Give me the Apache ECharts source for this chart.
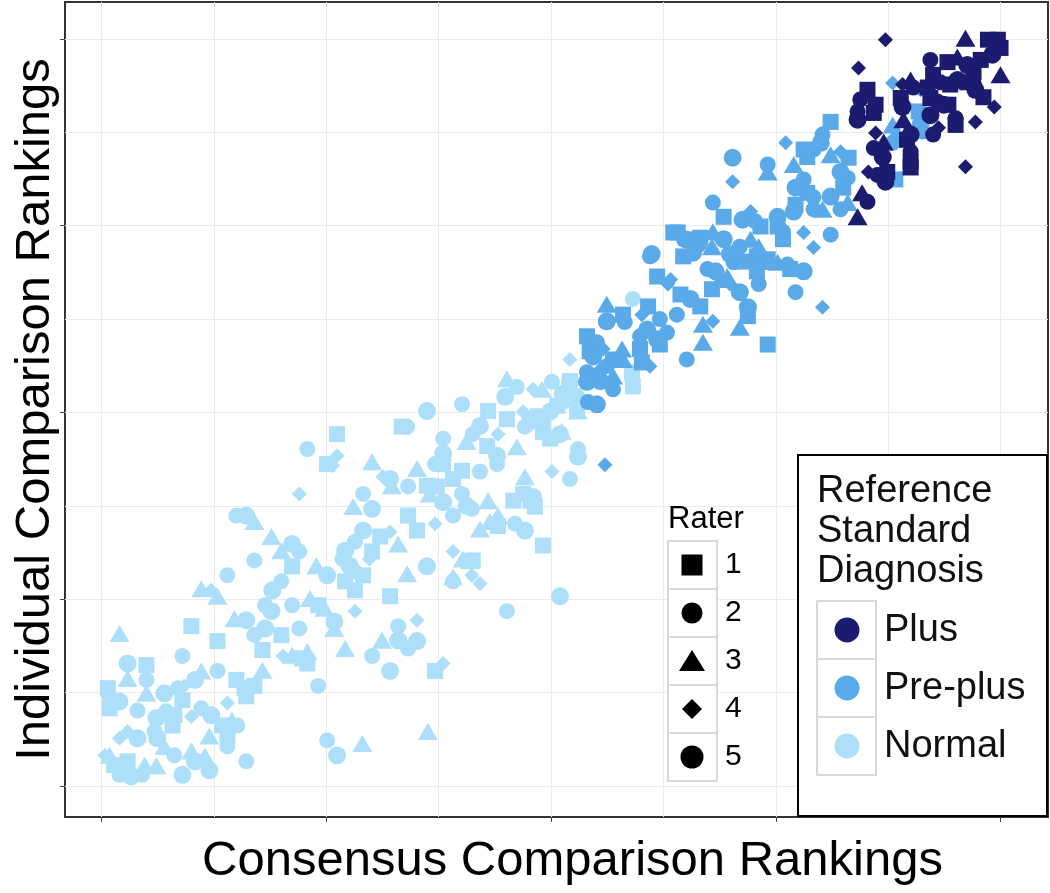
<!DOCTYPE html>
<html><head><meta charset="utf-8">
<script src="https://cdn.jsdelivr.net/npm/echarts@6/dist/echarts.min.js"></script>
<style>html,body{margin:0;padding:0;background:#fff}#c{width:1050px;height:893px}</style>
</head><body><div id="c"></div><script>
// Tick positions (rank units); axes carry no labels
const majorTicks = [0, 25, 50, 75, 100];
const minorTicks = [12.5, 37.5, 62.5, 87.5];
const raterNames = ['1', '2', '3', '4', '5'];
const diagnosisNames = ['Plus', 'Pre-plus', 'Normal'];
// Points: [consensus rank, individual rank, rater]
const normalPts = [
[15.0,36.2,2],[16.1,36.2,5],[17.0,35.4,3],[18.9,33.4,3],[21.2,32.4,5],[22.0,31.4,2],[20.0,31.5,3],[17.0,30.2,2],[21.2,29.4,1],[23.9,29.5,3],[25.1,28.2,5],[14.0,28.2,2],[20.0,27.4,2],[19.0,26.2,5],[11.1,26.4,3],[12.2,26.2,4],[12.9,25.4,3],[18.2,24.2,2],[18.9,23.4,5],[21.2,24.2,2],[23.2,25.1,3],[24.1,24.2,1],[24.8,23.8,3],[14.8,22.4,3],[16.1,22.2,5],[17.0,20.2,2],[18.2,21.1,5],[20.0,20.2,1],[22.0,21.1,2],[25.9,22.0,5],[25.9,21.1,3],[2.0,20.4,3],[10.0,21.4,1],[12.9,19.4,1],[27.1,18.4,3],[17.9,18.2,1],[20.2,17.4,4],[21.2,17.5,3],[22.3,17.1,1],[22.9,18.0,3],[22.9,16.4,1],[9.0,17.4,2],[2.9,16.4,5],[5.0,16.2,1],[2.9,14.4,3],[5.0,14.2,2],[17.9,15.5,3],[12.9,15.4,2],[11.1,15.4,3],[10.4,14.2,5],[9.2,13.4,4],[8.5,13.1,2],[5.0,12.4,3],[15.0,14.2,1],[15.9,13.1,1],[17.0,13.4,1],[16.1,12.0,1],[24.1,13.4,2],[7.0,12.4,5],[0.7,12.4,2],[2.0,11.3,5],[0.9,10.4,1],[14.0,11.1,4],[9.0,11.5,1],[4.0,10.1,2],[6.1,9.1,5],[7.2,10.0,2],[8.1,9.5,1],[7.9,8.1,1],[10.0,9.3,4],[11.1,10.4,2],[12.2,9.5,5],[13.4,8.1,1],[14.5,8.8,3],[15.1,8.1,2],[14.0,6.8,1],[5.9,7.3,2],[6.2,6.4,5],[2.9,7.3,4],[4.0,6.4,5],[2.0,6.4,4],[12.0,6.7,3],[14.0,5.3,2],[25.1,6.1,2],[26.2,4.1,5],[7.0,5.3,3],[8.1,4.1,2],[10.0,4.7,3],[10.4,3.3,5],[11.5,4.0,3],[16.1,3.3,2],[12.0,2.1,5],[0.9,4.1,3],[2.9,3.3,1],[2.2,2.4,1],[1.4,2.8,1],[4.8,2.8,3],[6.1,2.7,3],[2.0,1.5,2],[3.3,1.3,5],[4.5,1.5,2],[9.0,1.5,5],[0.7,13.1,1],[0.4,4.1,4],
[45.1,54.5,3],[46.2,53.4,2],[44.9,52.1,5],[48.0,53.1,4],[49.0,53.1,3],[50.1,54.1,2],[52.1,54.2,1],[51.3,52.5,5],[52.9,52.2,2],[53.0,50.2,3],[40.1,51.1,2],[36.2,50.2,5],[33.4,48.1,1],[34.0,48.1,2],[43.0,50.2,1],[45.1,49.1,1],[46.9,50.1,4],[47.7,48.9,5],[48.5,49.5,1],[49.1,48.7,2],[49.9,50.1,5],[50.7,50.9,1],[51.3,51.4,2],[47.1,48.1,2],[49.1,47.4,1],[49.9,46.5,1],[51.0,47.1,5],[51.2,47.5,3],[42.1,48.2,5],[41.3,47.1,2],[44.1,47.1,4],[26.2,47.1,1],[38.0,46.5,2],[40.6,46.1,3],[42.9,45.5,1],[44.0,44.2,5],[44.0,43.1,2],[46.2,45.4,3],[53.0,45.1,2],[53.0,44.1,5],[50.1,42.1,4],[52.1,41.1,2],[30.1,43.4,3],[38.0,44.5,5],[37.1,43.1,2],[38.0,43.1,1],[26.2,44.2,4],[25.7,42.9,4],[35.1,42.5,3],[39.1,41.1,1],[40.1,42.2,1],[42.1,42.1,2],[31.3,41.4,4],[32.1,41.1,5],[32.3,40.2,3],[34.1,40.1,2],[36.2,40.2,1],[37.3,40.1,1],[36.5,39.1,3],[38.0,38.0,5],[47.1,41.4,3],[40.1,39.1,2],[40.6,37.5,5],[41.2,37.1,2],[43.0,38.2,3],[45.8,38.2,1],[46.9,39.1,1],[47.7,38.2,1],[48.2,37.4,1],[48.0,38.7,5],[42.1,34.4,3],[43.2,35.4,3],[44.1,36.2,3],[44.1,34.8,1],[46.0,35.1,2],[47.1,34.2,5],[49.1,32.2,1],[29.1,39.1,2],[30.1,37.1,5],[28.0,37.4,3],[34.1,36.2,1],[35.1,34.2,1],[37.1,35.1,4],[39.1,36.2,2],[29.1,34.2,5],[28.2,32.7,2],[27.1,31.5,5],[26.8,30.4,2],[27.6,29.5,5],[28.2,28.7,2],[31.0,33.4,1],[30.1,31.4,1],[29.8,30.4,4],[33.0,32.4,3],[32.1,34.0,4],[29.1,28.2,1],[36.2,29.4,5],[34.0,28.4,3],[39.1,31.4,4],[40.2,30.4,3],[41.0,30.2,3],[41.3,30.2,1],[39.1,27.4,2],[39.1,28.0,3],[41.2,28.2,4],[42.1,27.1,4],[27.1,27.4,1],[28.2,26.2,1],[32.1,25.4,1],[51.0,25.4,5],[45.1,23.4,2],[28.2,23.4,4],[35.1,22.2,4],[33.0,21.4,2],[33.0,19.5,5],[34.1,18.4,2],[35.1,19.4,5],[31.2,19.5,3],[30.1,17.4,2],[32.1,15.4,5],[37.1,15.4,1],[38.0,16.4,4],
[36.3,7.3,3],[29.0,5.7,3],[22.9,45.1,2],[25.1,43.1,1],[22.0,39.1,4],
[59.1,65.2,2],[59.0,55.4,1],[59.1,53.5,1],[52.1,57.1,4],[52.1,54.1,5],[52.9,50.5,1]
];
const prePlusPts = [
[54.3,54.9,1],[55.5,54.2,5],[56.9,53.1,2],[54.1,51.4,2],[55.1,51.1,5],[56.0,43.0,4],[61.0,70.9,2],[63.6,74.1,1],[64.9,73.2,5],[66.6,73.4,1],[67.9,72.2,3],[68.8,73.2,4],[81.1,73.8,2],[78.1,74.1,4],[79.2,72.1,4],[78.1,68.9,5],[77.2,66.1,2],[80.2,64.1,4],[72.9,70.9,1],[74.4,70.2,3],[76.6,69.2,1],[73.1,67.2,2],[67.4,69.2,2],[68.8,67.8,3],[69.9,67.2,4],[71.0,66.1,5],[67.9,66.5,1],[61.8,68.2,1],[63.0,67.2,4],[64.4,65.8,1],[65.5,65.2,5],[66.6,64.2,1],[64.0,63.1,2],[56.2,64.5,3],[56.2,62.2,5],[58.0,63.1,1],[58.2,62.1,2],[60.8,64.2,1],[60.1,63.1,4],[62.1,62.5,2],[60.7,61.1,5],[59.9,60.2,2],[61.8,59.8,5],[62.9,60.7,2],[62.1,59.1,1],[68.0,62.2,4],[66.9,61.8,3],[66.9,59.4,3],[71.9,64.1,5],[71.9,62.9,1],[71.0,61.4,3],[74.1,59.1,1],[65.1,57.1,2],[54.0,60.2,1],[55.1,59.4,2],[55.8,58.5,4],[54.3,58.2,1],[54.7,57.5,5],[57.9,58.5,3],[56.9,57.1,1],[56.2,56.2,2],[55.5,55.8,4],[58.0,57.1,3],[59.9,58.5,1],[60.1,56.7,1],[61.0,56.2,4],[54.0,55.4,2],[54.0,54.1,5],[54.7,54.9,1],[56.9,54.9,3],
[81.1,88.9,1],[80.2,87.2,2],[80.0,86.1,5],[76.1,86.1,4],[78.1,85.2,1],[79.2,85.2,2],[78.5,84.2,1],[81.1,84.5,3],[82.2,84.9,4],[83.1,84.1,1],[70.2,84.1,5],[74.1,83.2,2],[74.1,82.2,3],[77.0,83.2,3],[70.2,80.9,4],[78.1,81.2,2],[77.2,80.1,5],[78.5,79.4,1],[79.2,78.8,2],[82.2,82.2,5],[83.0,81.4,2],[82.5,80.1,1],[81.1,78.9,5],[82.2,77.2,2],[83.0,78.1,3],[77.2,77.8,1],[77.0,76.9,5],[79.2,77.2,2],[80.2,77.2,3],[68.0,78.1,2],[69.2,76.2,1],[72.2,76.9,4],[71.3,75.8,5],[72.7,75.6,2],[73.3,74.9,1],[75.2,76.2,5],[75.2,74.9,1],[75.8,74.2,2],[75.8,73.2,1],[68.0,74.2,3],[69.2,73.2,5],[64.1,74.1,1],[65.5,73.2,2],[66.6,72.2,4],[65.8,71.4,5],[64.7,70.9,1],[72.2,73.2,3],[73.1,72.2,3],[71.0,72.2,2],[69.9,71.2,5],[70.3,70.1,2],[71.3,70.2,1],[61.2,71.2,5],[74.1,70.5,1],[75.2,70.1,3],[76.3,69.8,2],[63.3,67.8,4],[68.3,68.9,5],[69.6,68.2,3],[72.9,68.9,1],
[88.0,94.1,4],[91.1,93.2,4],[90.9,90.3,1],[91.1,88.5,5],[91.3,87.6,2],[88.0,88.5,3],[88.3,87.2,3],[88.0,86.1,2],[88.3,81.2,1]
];
const plusPts = [
[87.2,99.9,4],[84.2,96.1,4],[96.1,100.1,3],[98.6,99.9,1],[99.7,99.9,1],[100.0,98.8,1],[99.1,97.9,5],[100.0,95.2,3],[92.2,97.2,2],[94.1,96.9,1],[95.2,97.6,3],[96.3,96.5,5],[97.0,95.6,1],[97.8,97.2,1],[92.5,95.2,1],[93.3,94.2,2],[94.4,93.9,1],[95.2,94.5,5],[96.3,94.2,1],[97.0,94.1,2],[97.2,93.2,5],[85.2,93.2,1],[86.1,91.2,1],[85.9,90.1,1],[84.1,90.3,2],[84.1,89.2,5],[89.1,93.9,4],[90.0,94.5,3],[90.3,93.5,2],[88.9,92.1,1],[89.1,90.9,5],[89.2,89.2,3],[91.9,93.5,1],[92.2,92.1,1],[93.0,91.6,2],[93.7,91.2,5],[94.2,91.2,1],[98.1,92.2,1],[99.3,90.9,4],[97.2,88.9,4],[95.0,88.5,1],[95.0,89.4,2],[93.1,88.1,4],[92.2,89.8,5],[92.5,87.2,2],[90.0,87.2,5],[89.6,86.5,1],[86.1,87.4,4],[85.9,85.4,2],[86.9,84.2,5],[87.0,86.2,3],[90.0,84.9,2],[90.0,83.6,1],[90.0,82.8,1],[85.3,82.2,4],[86.3,81.8,2],[87.4,82.2,1],[87.2,80.9,5],[96.1,82.9,4],[84.6,79.4,3],[85.2,78.2,2],[84.1,76.2,3],[84.4,91.9,2]
];

const colors = {'Plus':'#1b1b6f','Pre-plus':'#5aaaea','Normal':'#aedffa'};
const raterSymbol = {1:'rect',2:'circle',3:'triangle',4:'diamond',5:'circle'};
const raterSize = {1:16,2:16,3:[20,17],4:15,5:18};
const FONT = '"Liberation Sans", Arial, sans-serif';

const classes = [['Normal', normalPts], ['Pre-plus', prePlusPts], ['Plus', plusPts]];
const series = [];
classes.forEach(([name, pts]) => {
  [1,2,3,4,5].forEach(r => {
    series.push({
      type: 'scatter', name: name + ' / ' + r,
      xAxisIndex: 0, yAxisIndex: 0,
      symbol: raterSymbol[r], symbolSize: raterSize[r],
      itemStyle: {color: colors[name], opacity: 1},
      emphasis: {disabled: true},
      data: pts.filter(p => p[2] === r).map(p => [p[0], p[1]])
    });
  });
});

// Legends drawn as graphic elements
const g = [];
const Z = 100;
g.push({type:'text', x:668, y:519, z:Z, style:{text:'Rater', fontSize:31, fontFamily:FONT, fill:'#000', align:'left', verticalAlign:'middle'}});
raterNames.forEach((n, i) => {
  const y0 = 541 + 48*i, cy = y0 + 24, cx = 692;
  g.push({type:'rect', z:Z, shape:{x:668, y:y0, width:49, height:48}, style:{fill:'#fff', stroke:'#d9d9d9', lineWidth:2}});
  if (i === 0) g.push({type:'rect', z:Z+1, shape:{x:cx-10.5, y:cy-10.5, width:21, height:21}, style:{fill:'#000'}});
  if (i === 1) g.push({type:'circle', z:Z+1, shape:{cx:cx, cy:cy, r:10.5}, style:{fill:'#000'}});
  if (i === 2) g.push({type:'polygon', z:Z+1, shape:{points:[[cx, cy-11],[cx+13, cy+10],[cx-13, cy+10]]}, style:{fill:'#000'}});
  if (i === 3) g.push({type:'polygon', z:Z+1, shape:{points:[[cx, cy-10],[cx+10, cy],[cx, cy+10],[cx-10, cy]]}, style:{fill:'#000'}});
  if (i === 4) g.push({type:'circle', z:Z+1, shape:{cx:cx, cy:cy, r:11.5}, style:{fill:'#000'}});
  g.push({type:'text', x:725, y:cy, z:Z, style:{text:n, fontSize:30, fontFamily:FONT, fill:'#000', align:'left', verticalAlign:'middle'}});
});
g.push({type:'rect', z:Z-1, shape:{x:798, y:455, width:249, height:361}, style:{fill:'#fff', stroke:'#000', lineWidth:2}});
['Reference','Standard','Diagnosis'].forEach((t, i) => {
  g.push({type:'text', x:817, y:492 + 40*i, z:Z, style:{text:t, fontSize:38, fontFamily:FONT, fill:'#111', align:'left', verticalAlign:'middle'}});
});
diagnosisNames.forEach((n, i) => {
  const y0 = 601 + 58*i, cy = y0 + 29;
  g.push({type:'rect', z:Z, shape:{x:817, y:y0, width:59, height:58}, style:{fill:'#fff', stroke:'#d9d9d9', lineWidth:2}});
  g.push({type:'circle', z:Z+1, shape:{cx:847, cy:cy, r:12.5}, style:{fill:colors[n]}});
  g.push({type:'text', x:884, y:cy+1, z:Z, style:{text:n, fontSize:38, fontFamily:FONT, fill:'#111', align:'left', verticalAlign:'middle'}});
});

const chart = echarts.init(document.getElementById('c'), null, {renderer:'canvas'});
chart.setOption({
  animation: false,
  backgroundColor: '#fff',
  grid: {left:65, top:2, width:983, height:815, show:true, borderColor:'#333', borderWidth:2, backgroundColor:'transparent'},
  xAxis: [
    {type:'value', min:-4.06, max:105.28, position:'bottom',
     name:'Consensus Comparison Rankings', nameLocation:'middle', nameGap:44,
     nameTextStyle:{fontSize:49, fontFamily:FONT, color:'#000', verticalAlign:'middle', padding:[0,0,0,32]},
     axisLine:{show:false, onZero:false}, axisLabel:{show:false, customValues:majorTicks},
     axisTick:{show:true, inside:false, customValues:majorTicks, length:5, lineStyle:{color:'#444', width:1}},
     splitLine:{show:true, lineStyle:{color:'#ebebeb', width:1}}},
    {type:'value', min:-4.06, max:105.28, position:'top',
     axisLine:{show:false, onZero:false}, axisLabel:{show:false, customValues:minorTicks},
     axisTick:{show:false, customValues:minorTicks},
     splitLine:{show:true, lineStyle:{color:'#ebebeb', width:1}}}
  ],
  yAxis: [
    {type:'value', min:-4.15, max:104.95, position:'left',
     name:'Individual Comparison Rankings', nameLocation:'middle', nameGap:30,
     nameTextStyle:{fontSize:49, fontFamily:FONT, color:'#000', verticalAlign:'middle'},
     axisLine:{show:false, onZero:false}, axisLabel:{show:false, customValues:majorTicks},
     axisTick:{show:true, inside:false, customValues:majorTicks, length:5, lineStyle:{color:'#444', width:1}},
     splitLine:{show:true, lineStyle:{color:'#ebebeb', width:1}}},
    {type:'value', min:-4.15, max:104.95, position:'right',
     axisLine:{show:false, onZero:false}, axisLabel:{show:false, customValues:minorTicks},
     axisTick:{show:false, customValues:minorTicks},
     splitLine:{show:true, lineStyle:{color:'#ebebeb', width:1}}}
  ],
  series: series,
  graphic: g
});
</script></body></html>
